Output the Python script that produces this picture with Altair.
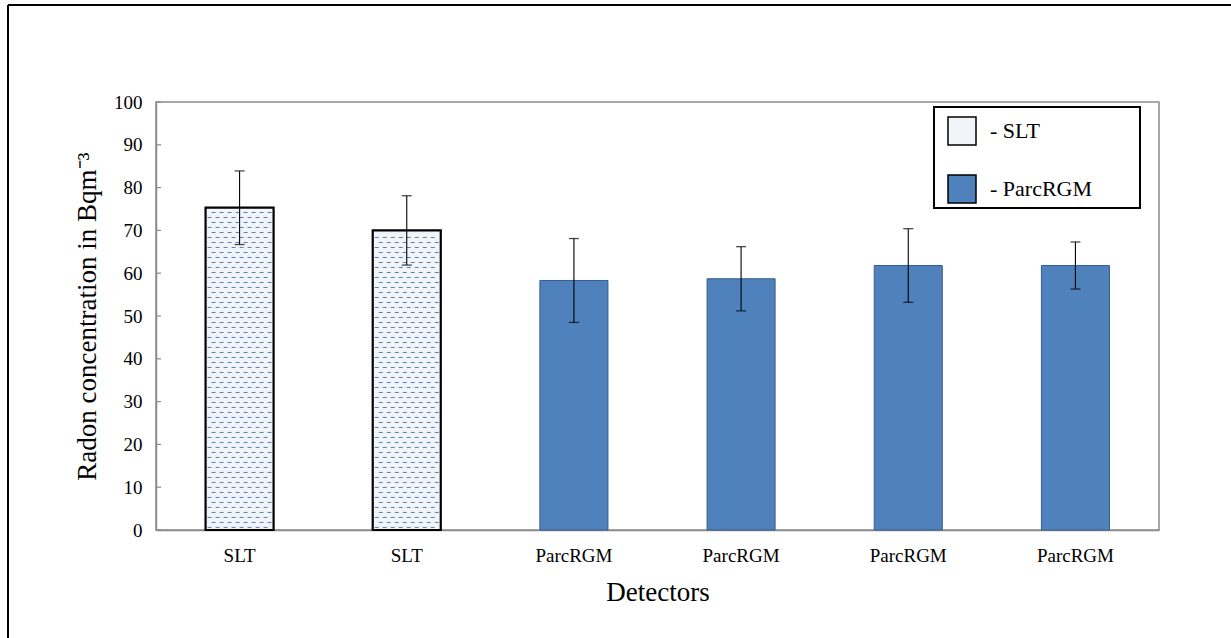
import altair as alt
import pandas as pd

# ---- data ----
ids = [1, 2, 3, 4, 5, 6]
labels = ["SLT", "SLT", "ParcRGM", "ParcRGM", "ParcRGM", "ParcRGM"]
values = [75.3, 70.0, 58.3, 58.7, 61.8, 61.8]
errors = [8.6, 8.1, 9.8, 7.5, 8.6, 5.5]
y_ticks = [0, 10, 20, 30, 40, 50, 60, 70, 80, 90, 100]

df = pd.DataFrame({"id": ids, "group": labels, "value": values, "err": errors})
df["lo"] = df["value"] - df["err"]
df["hi"] = df["value"] + df["err"]

FONT = "Liberation Serif"
W, H = 1003, 428
BLUE = "#4f81bd"

label_expr = "[" + ",".join("'%s'" % l for l in labels) + "][datum.value - 1]"

x_enc = alt.X(
    "id:O",
    scale=alt.Scale(paddingInner=0.593, paddingOuter=0.2965),
    axis=alt.Axis(
        title="Detectors", labelExpr=label_expr, labelAngle=0, ticks=False,
        labelFont=FONT, labelFontSize=19, labelColor="black", labelPadding=16,
        titleFont=FONT, titleFontSize=27, titleFontWeight="normal", titleColor="black",
        titlePadding=14, domainColor="#8c8c8c", domainWidth=1.5,
    ),
)
y_scale = alt.Scale(domain=[0, 100], nice=False)
y_enc = alt.Y(
    "value:Q",
    scale=y_scale,
    axis=alt.Axis(
        title="Radon concentration in Bqm⁻³", values=y_ticks, ticks=False,
        labelFont=FONT, labelFontSize=19, labelColor="black", labelPadding=14,
        titleFont=FONT, titleFontSize=27, titleFontWeight="normal", titleColor="black",
        titlePadding=12, domainColor="#8c8c8c", domainWidth=1.5, grid=False,
    ),
)

base = alt.Chart(df)

bars = base.mark_bar(strokeWidth=0).encode(
    x=x_enc,
    y=y_enc,
    color=alt.Color(
        "group:N",
        scale=alt.Scale(domain=["SLT", "ParcRGM"], range=["#f1f5fa", BLUE]),
        legend=alt.Legend(
            title=None, orient="none", legendX=791, legendY=14, padding=0,
            symbolType="square", symbolSize=784, symbolStrokeColor="black",
            symbolStrokeWidth=1.5, symbolOpacity=1,
            labelFont=FONT, labelFontSize=22, labelColor="black", labelOffset=13,
            labelExpr="'- ' + datum.label", rowPadding=24,
        ),
    ),
)

# dashed texture inside the SLT bars
slt_ids = [i for i, l in zip(ids, labels) if l == "SLT"]
stripe_src = alt.sequence(start=0.6, stop=100, step=1.168, as_="s")


def stripes(parity, offset):
    return (
        alt.Chart(stripe_src)
        .transform_calculate(id=str(slt_ids))
        .transform_flatten(["id"])
        .transform_lookup(lookup="id", from_=alt.LookupData(data=df, key="id", fields=["value"]))
        .transform_calculate(k="round((datum.s - 0.6) / 1.168) % 2")
        .transform_filter("datum.s < datum.value - 0.6 && datum.k == %d" % parity)
        .mark_rule(color="#5b7fb3", strokeWidth=1, strokeDash=[4, 4],
                   strokeDashOffset=offset, xOffset=-32, x2Offset=32)
        .encode(x=alt.X("id:O"), x2=alt.X2("id"), y=alt.Y("s:Q", scale=y_scale))
    )


outline = base.mark_bar(fillOpacity=0).encode(
    x=alt.X("id:O"),
    y=alt.Y("value:Q", scale=y_scale),
    stroke=alt.condition("datum.group == 'SLT'", alt.value("black"), alt.value("#385d8a")),
    strokeWidth=alt.condition("datum.group == 'SLT'", alt.value(2.2), alt.value(1)),
)

err_rule = base.mark_rule(color="black", strokeWidth=1.1).encode(
    x=alt.X("id:O"), y=alt.Y("lo:Q", scale=y_scale), y2="hi:Q"
)
cap_hi = base.mark_tick(color="black", size=10, thickness=1.3, orient="horizontal").encode(
    x=alt.X("id:O"), y=alt.Y("hi:Q", scale=y_scale)
)
cap_lo = base.mark_tick(color="black", size=10, thickness=1.3, orient="horizontal").encode(
    x=alt.X("id:O"), y=alt.Y("lo:Q", scale=y_scale)
)

# inward y ticks
tick_df = pd.DataFrame({"t": y_ticks})
yticks = alt.Chart(tick_df).mark_rule(color="#8c8c8c", strokeWidth=1.2).encode(
    y=alt.Y("t:Q", scale=y_scale), x=alt.value(0), x2=alt.value(5)
)

# legend frame and outer picture frame
legend_box = alt.Chart(tick_df).mark_rect(
    fillOpacity=0, stroke="black", strokeWidth=2
).encode(x=alt.value(778), x2=alt.value(984), y=alt.value(5), y2=alt.value(106))
frame_top = alt.Chart(tick_df).mark_rule(color="black", strokeWidth=1.5).encode(
    x=alt.value(-148), x2=alt.value(1080), y=alt.value(-97)
)
frame_left = alt.Chart(tick_df).mark_rule(color="black", strokeWidth=1.5).encode(
    x=alt.value(-148), y=alt.value(-97), y2=alt.value(540)
)

chart = (
    alt.layer(bars, stripes(0, 0), stripes(1, 4), outline, err_rule, cap_hi, cap_lo,
              yticks, legend_box, frame_top, frame_left)
    .properties(
        width=W, height=H,
        autosize=alt.AutoSizeParams(type="none"),
        padding={"left": 156, "top": 102, "right": 72, "bottom": 108},
        background="white",
    )
    .configure(font=FONT)
    .configure_view(stroke="#8c8c8c", strokeWidth=1.5)
)

chart.save("out.html", embed_options={"renderer": "svg", "actions": False})
